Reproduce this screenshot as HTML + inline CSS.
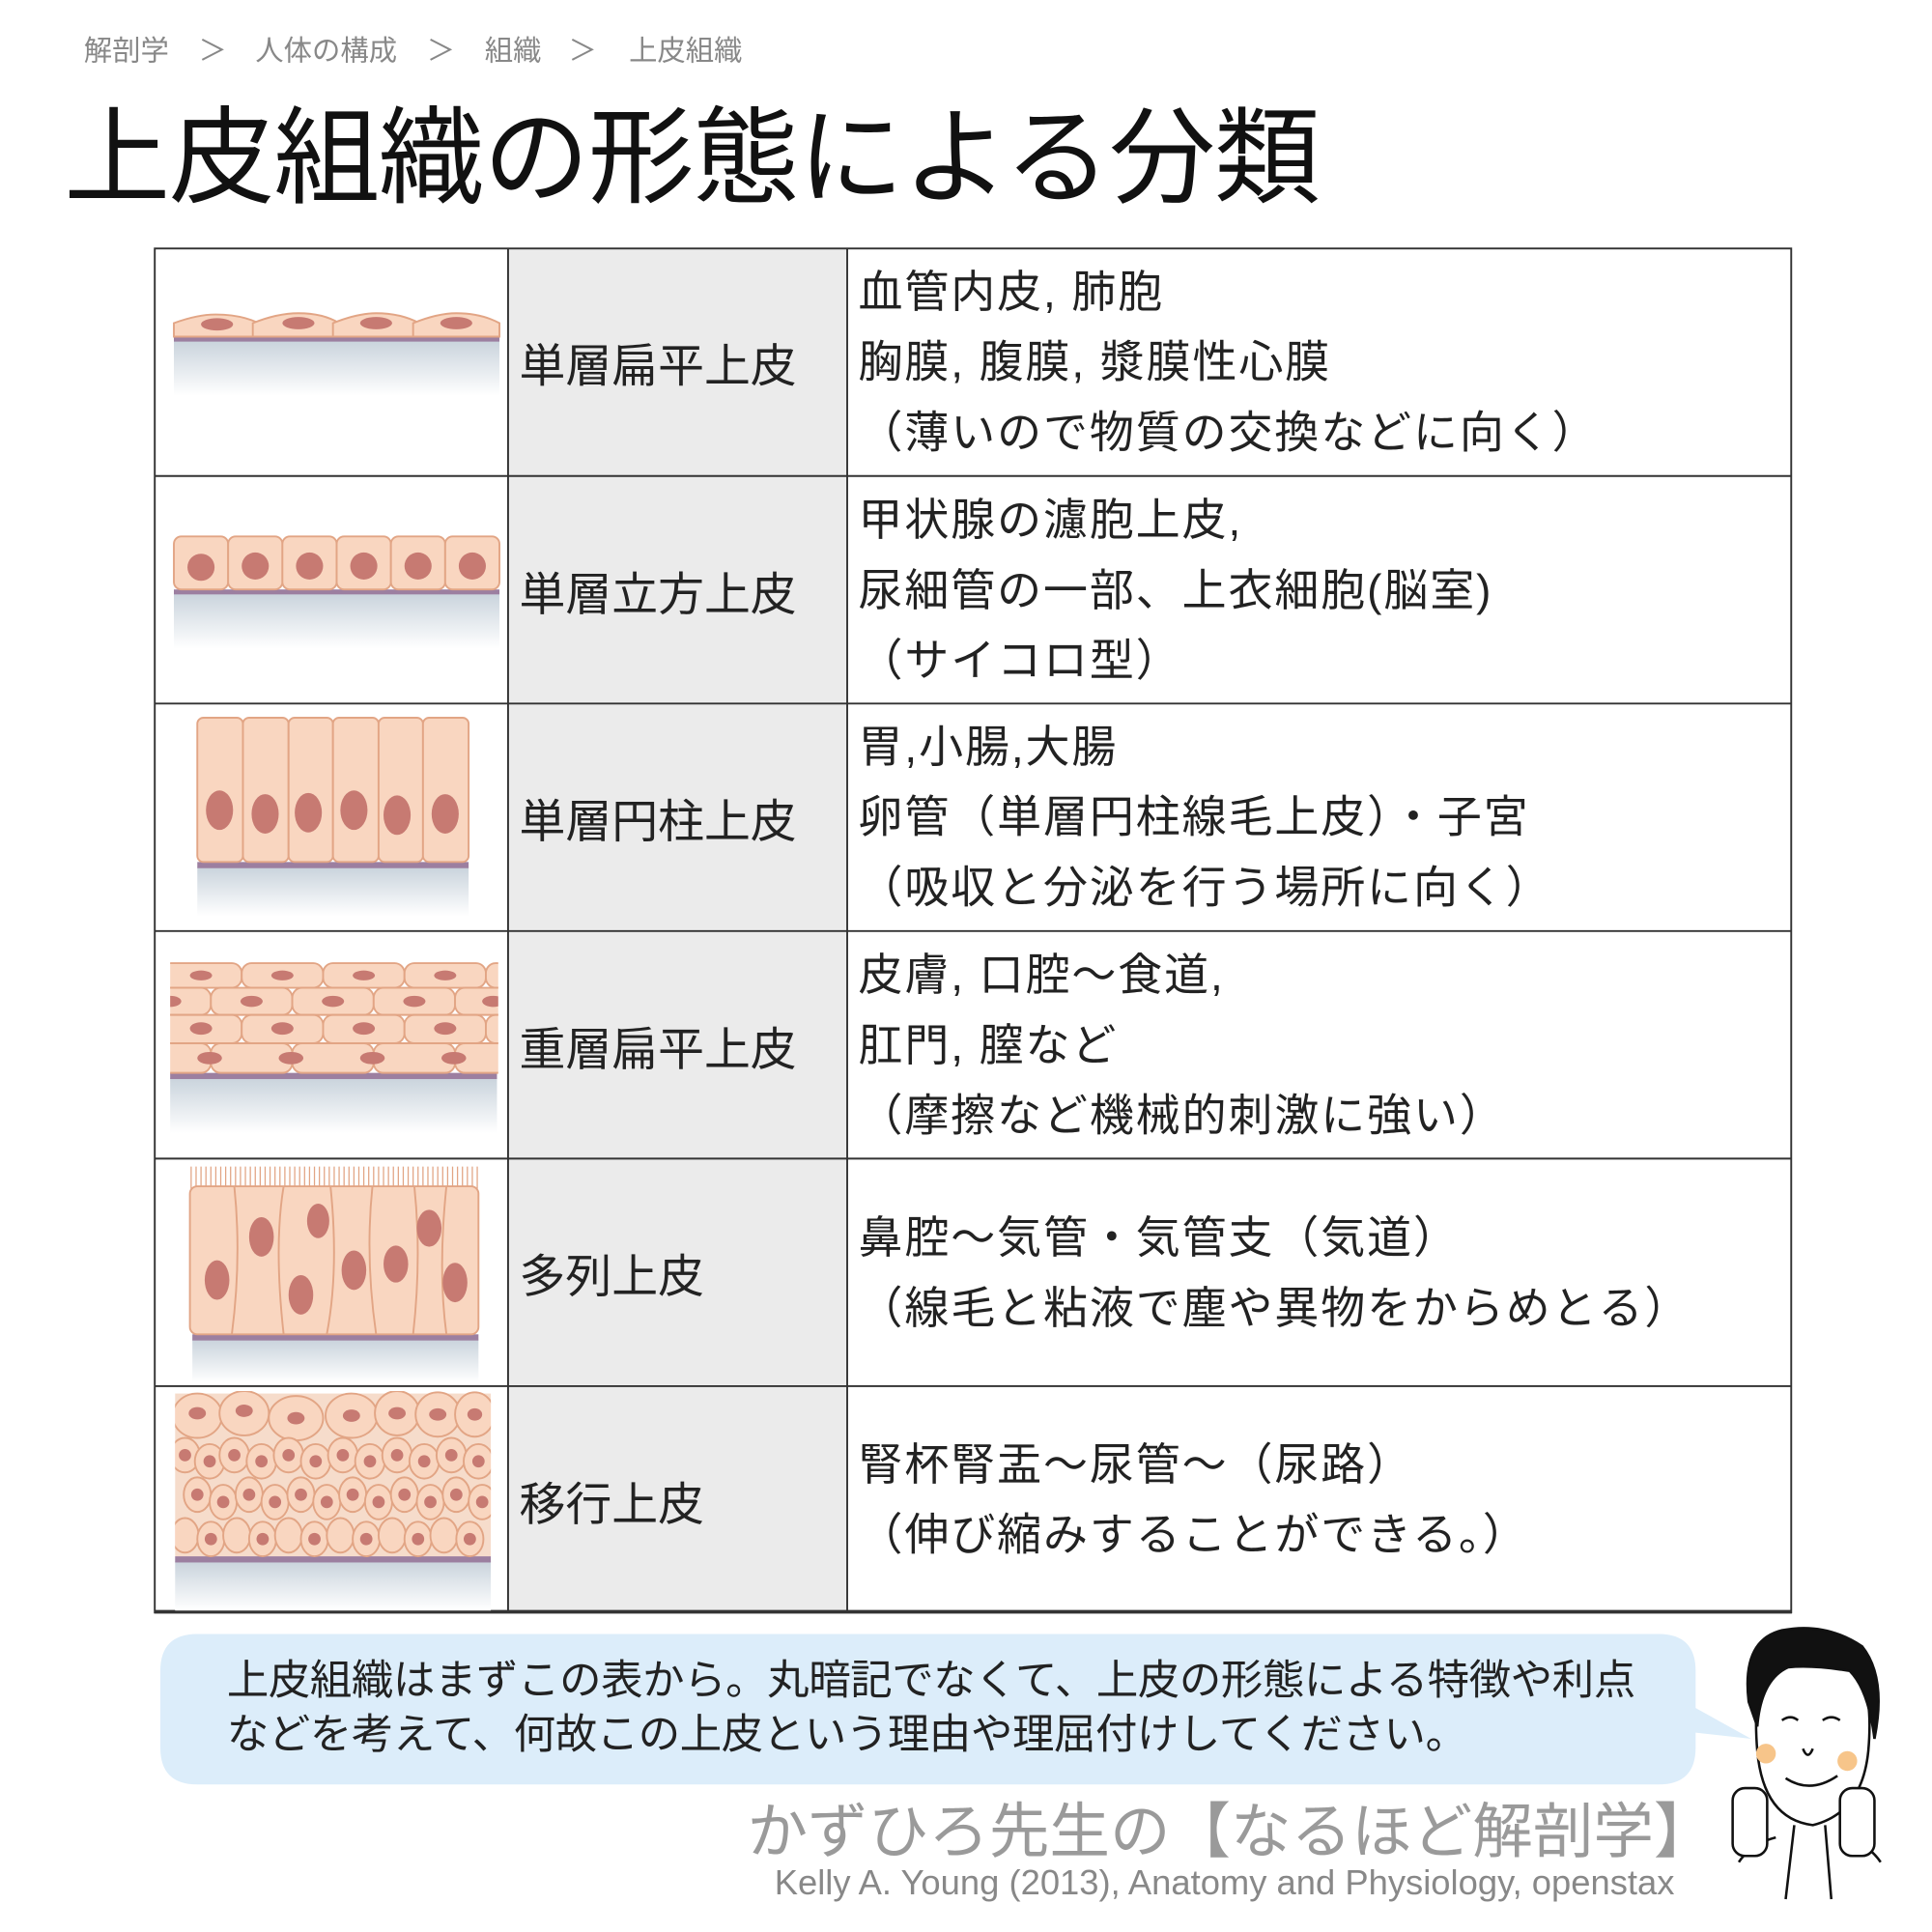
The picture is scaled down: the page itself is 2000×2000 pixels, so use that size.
<!DOCTYPE html>
<html><head><meta charset="utf-8"><style>
html,body{margin:0;padding:0;background:#fff;}
#wrap{position:relative;width:1566px;height:1566px;transform:scale(1.2766);transform-origin:0 0;overflow:hidden;font-family:"Liberation Sans","Noto Sans CJK JP",sans-serif;}
.abs{position:absolute;}
.bc{top:22px;font-size:23px;color:#888;white-space:nowrap;}
.title{left:52px;top:58px;font-size:86px;color:#111;white-space:nowrap;letter-spacing:-1px;}
.lab{position:absolute;left:412px;width:275px;display:flex;align-items:center;font-size:37.5px;color:#222;padding-left:9px;box-sizing:border-box;white-space:nowrap;}
.txt{position:absolute;left:696px;width:755px;display:flex;flex-direction:column;justify-content:center;font-size:36px;line-height:57px;color:#222;white-space:nowrap;letter-spacing:1.5px;}
.bub{left:184px;top:1341px;font-size:34px;line-height:44px;color:#222;white-space:nowrap;letter-spacing:-0.3px;}
.brand{left:606px;top:1446px;font-size:49px;color:#9a9a9a;white-space:nowrap;}
.cite{left:628px;top:1511px;font-size:28.5px;color:#888;white-space:nowrap;}
</style></head><body><div id="wrap">
<svg class="abs" style="left:0;top:0" width="1566" height="1566" viewBox="0 0 1566 1566">
<defs>
<linearGradient id="bg" x1="0" y1="0" x2="0" y2="1"><stop offset="0" stop-color="#c9d3dc"/><stop offset="1" stop-color="#fff"/></linearGradient>
<clipPath id="c4"><rect x="138" y="778" width="266" height="96"/></clipPath>
<clipPath id="c6"><rect x="142" y="1128" width="256" height="136"/></clipPath>
</defs>
<rect x="412" y="201" width="275" height="1107" fill="#ebebeb"/>
<g stroke="#333" stroke-width="1.5" fill="none">
<rect x="125.5" y="201.5" width="1327" height="1106"/>
<line x1="412" y1="201" x2="412" y2="1308"/><line x1="687" y1="201" x2="687" y2="1308"/>
<line x1="125" y1="386" x2="1453" y2="386"/><line x1="125" y1="570.5" x2="1453" y2="570.5"/>
<line x1="125" y1="755" x2="1453" y2="755"/><line x1="125" y1="939.5" x2="1453" y2="939.5"/>
<line x1="125" y1="1124" x2="1453" y2="1124"/>
</g>
<line x1="125" y1="1307" x2="1453" y2="1307" stroke="#333" stroke-width="3"/>
<!-- row1 -->
<rect x="141" y="276" width="264" height="45" fill="url(#bg)"/>
<rect x="141" y="273" width="264" height="4" fill="#9c7fa0"/>
<g fill="#f9d6c0" stroke="#e2a585" stroke-width="1.5">
<path d="M141 273 L141 262 Q160 255 175 255 Q195 255 210 262 L210 273Z"/>
<path d="M205 273 L205 262 Q225 254 242 254 Q262 254 275 262 L275 273Z"/>
<path d="M270 273 L270 262 Q290 254 305 254 Q325 254 340 262 L340 273Z"/>
<path d="M335 273 L335 262 Q355 254 370 254 Q390 254 405 262 L405 273Z"/>
</g>
<g fill="#c77a72"><ellipse cx="176" cy="263" rx="13" ry="5"/><ellipse cx="242" cy="262" rx="13" ry="5"/><ellipse cx="305" cy="262" rx="13" ry="5"/><ellipse cx="370" cy="262" rx="13" ry="5"/></g>
<!-- row2 -->
<rect x="141" y="481" width="264" height="45" fill="url(#bg)"/>
<rect x="141" y="478" width="264" height="4" fill="#9c7fa0"/>
<g fill="#f9d6c0" stroke="#e2a585" stroke-width="1.5">
<rect x="141" y="435" width="44" height="43" rx="6"/><rect x="185" y="435" width="44" height="43" rx="6"/><rect x="229" y="435" width="44" height="43" rx="6"/><rect x="273" y="435" width="44" height="43" rx="6"/><rect x="317" y="435" width="44" height="43" rx="6"/><rect x="361" y="435" width="44" height="43" rx="6"/>
</g>
<g fill="#c77a72"><circle cx="163" cy="460" r="11"/><circle cx="207" cy="459" r="11"/><circle cx="251" cy="459" r="11"/><circle cx="295" cy="459" r="11"/><circle cx="339" cy="459" r="11"/><circle cx="383" cy="459" r="11"/></g>
<!-- row3 -->
<rect x="160" y="703" width="220" height="40" fill="url(#bg)"/>
<rect x="160" y="699" width="220" height="5" fill="#9c7fa0"/>
<g fill="#f9d6c0" stroke="#e2a585" stroke-width="1.5">
<rect x="160" y="582" width="37" height="117" rx="5"/><rect x="197" y="582" width="37" height="117" rx="5"/><rect x="234" y="582" width="36" height="117" rx="5"/><rect x="270" y="582" width="37" height="117" rx="5"/><rect x="307" y="582" width="36" height="117" rx="5"/><rect x="343" y="582" width="37" height="117" rx="5"/>
</g>
<g fill="#c77a72"><ellipse cx="178" cy="657" rx="11" ry="16"/><ellipse cx="215" cy="660" rx="11" ry="16"/><ellipse cx="250" cy="659" rx="11" ry="16"/><ellipse cx="287" cy="657" rx="11" ry="16"/><ellipse cx="322" cy="661" rx="11" ry="16"/><ellipse cx="361" cy="660" rx="11" ry="16"/></g>
<!-- row4 -->
<rect x="138" y="874" width="265" height="45" fill="url(#bg)"/>
<rect x="138" y="870" width="265" height="5" fill="#9c7fa0"/>
<g clip-path="url(#c4)" fill="#f9d6c0" stroke="#e2a585" stroke-width="1.5">
<rect x="130" y="781" width="66" height="20" rx="8"/><rect x="196" y="781" width="66" height="20" rx="8"/><rect x="262" y="781" width="66" height="20" rx="8"/><rect x="328" y="781" width="66" height="20" rx="8"/><rect x="394" y="781" width="66" height="20" rx="8"/>
<rect x="105" y="801" width="66" height="22" rx="8"/><rect x="171" y="801" width="66" height="22" rx="8"/><rect x="237" y="801" width="66" height="22" rx="8"/><rect x="303" y="801" width="66" height="22" rx="8"/><rect x="369" y="801" width="66" height="22" rx="8"/>
<rect x="130" y="823" width="66" height="23" rx="8"/><rect x="196" y="823" width="66" height="23" rx="8"/><rect x="262" y="823" width="66" height="23" rx="8"/><rect x="328" y="823" width="66" height="23" rx="8"/><rect x="394" y="823" width="66" height="23" rx="8"/>
<rect x="105" y="846" width="66" height="24" rx="8"/><rect x="171" y="846" width="66" height="24" rx="8"/><rect x="237" y="846" width="66" height="24" rx="8"/><rect x="303" y="846" width="66" height="24" rx="8"/><rect x="369" y="846" width="66" height="24" rx="8"/>
</g>
<g clip-path="url(#c4)" fill="#c77a72">
<ellipse cx="163" cy="791" rx="9" ry="4"/><ellipse cx="229" cy="791" rx="9" ry="4"/><ellipse cx="295" cy="791" rx="9" ry="4"/><ellipse cx="361" cy="791" rx="9" ry="4"/>
<ellipse cx="138" cy="812" rx="9" ry="4.5"/><ellipse cx="204" cy="812" rx="9" ry="4.5"/><ellipse cx="270" cy="812" rx="9" ry="4.5"/><ellipse cx="336" cy="812" rx="9" ry="4.5"/><ellipse cx="400" cy="812" rx="9" ry="4.5"/>
<ellipse cx="163" cy="834" rx="9" ry="5"/><ellipse cx="229" cy="834" rx="9" ry="5"/><ellipse cx="295" cy="834" rx="9" ry="5"/><ellipse cx="361" cy="834" rx="9" ry="5"/>
<ellipse cx="170" cy="858" rx="10" ry="5"/><ellipse cx="236" cy="858" rx="10" ry="5"/><ellipse cx="302" cy="858" rx="10" ry="5"/><ellipse cx="368" cy="858" rx="10" ry="5"/>
</g>
<!-- row5 -->
<rect x="156" y="1086" width="232" height="35" fill="url(#bg)"/>
<rect x="156" y="1082" width="232" height="5" fill="#9c7fa0"/>
<g stroke="#e2a585" stroke-width="1">
<path d="M155 964 V946 M159 964 V946 M163 964 V946 M167 964 V946 M171 964 V946 M175 964 V946 M179 964 V946 M183 964 V946 M187 964 V946 M191 964 V946 M195 964 V946 M199 964 V946 M203 964 V946 M207 964 V946 M211 964 V946 M215 964 V946 M219 964 V946 M223 964 V946 M227 964 V946 M231 964 V946 M235 964 V946 M239 964 V946 M243 964 V946 M247 964 V946 M251 964 V946 M255 964 V946 M259 964 V946 M263 964 V946 M267 964 V946 M271 964 V946 M275 964 V946 M279 964 V946 M283 964 V946 M287 964 V946 M291 964 V946 M295 964 V946 M299 964 V946 M303 964 V946 M307 964 V946 M311 964 V946 M315 964 V946 M319 964 V946 M323 964 V946 M327 964 V946 M331 964 V946 M335 964 V946 M339 964 V946 M343 964 V946 M347 964 V946 M351 964 V946 M355 964 V946 M359 964 V946 M363 964 V946 M367 964 V946 M371 964 V946 M375 964 V946 M379 964 V946 M383 964 V946 M387 964 V946"/>
</g>
<rect x="154" y="962" width="234" height="120" rx="6" fill="#f9d6c0" stroke="#e2a585" stroke-width="1.5"/>
<g fill="none" stroke="#e2a585" stroke-width="1.5">
<path d="M190 962 Q196 1020 188 1082 M230 962 Q222 1010 230 1082 M268 962 Q275 1030 265 1082 M302 962 Q296 1020 305 1082 M336 962 Q342 1020 335 1082 M362 962 Q355 1030 362 1082"/>
</g>
<g fill="#c77a72"><ellipse cx="176" cy="1038" rx="10" ry="16"/><ellipse cx="212" cy="1003" rx="10" ry="16"/><ellipse cx="244" cy="1050" rx="10" ry="16"/><ellipse cx="258" cy="990" rx="9" ry="14"/><ellipse cx="287" cy="1030" rx="10" ry="16"/><ellipse cx="321" cy="1025" rx="10" ry="15"/><ellipse cx="348" cy="996" rx="10" ry="15"/><ellipse cx="369" cy="1040" rx="10" ry="16"/></g>
<!-- row6 -->
<rect x="142" y="1266" width="256" height="40" fill="url(#bg)"/>
<rect x="142" y="1262" width="256" height="5" fill="#9c7fa0"/>
<rect x="142" y="1130" width="256" height="132" fill="#f6dccb"/>
<g clip-path="url(#c6)" fill="#f9d6c0" stroke="#e2a585" stroke-width="1.5">
<ellipse cx="160" cy="1148" rx="20" ry="18"/><ellipse cx="198" cy="1146" rx="20" ry="18"/><ellipse cx="240" cy="1150" rx="22" ry="18"/><ellipse cx="285" cy="1148" rx="21" ry="18"/><ellipse cx="322" cy="1146" rx="18" ry="18"/><ellipse cx="355" cy="1147" rx="18" ry="18"/><ellipse cx="385" cy="1147" rx="16" ry="18"/>
<ellipse cx="150" cy="1180" rx="12" ry="14"/><ellipse cx="170" cy="1185" rx="12" ry="14"/><ellipse cx="190" cy="1180" rx="12" ry="14"/><ellipse cx="212" cy="1185" rx="12" ry="14"/><ellipse cx="234" cy="1180" rx="12" ry="14"/><ellipse cx="256" cy="1185" rx="12" ry="14"/><ellipse cx="278" cy="1180" rx="12" ry="14"/><ellipse cx="300" cy="1185" rx="12" ry="14"/><ellipse cx="322" cy="1180" rx="12" ry="14"/><ellipse cx="344" cy="1185" rx="12" ry="14"/><ellipse cx="366" cy="1180" rx="12" ry="14"/><ellipse cx="388" cy="1185" rx="12" ry="14"/>
<ellipse cx="160" cy="1212" rx="11" ry="14"/><ellipse cx="181" cy="1218" rx="11" ry="14"/><ellipse cx="202" cy="1212" rx="11" ry="14"/><ellipse cx="223" cy="1218" rx="11" ry="14"/><ellipse cx="244" cy="1212" rx="11" ry="14"/><ellipse cx="265" cy="1218" rx="11" ry="14"/><ellipse cx="286" cy="1212" rx="11" ry="14"/><ellipse cx="307" cy="1218" rx="11" ry="14"/><ellipse cx="328" cy="1212" rx="11" ry="14"/><ellipse cx="349" cy="1218" rx="11" ry="14"/><ellipse cx="370" cy="1212" rx="11" ry="14"/><ellipse cx="391" cy="1218" rx="11" ry="14"/>
<ellipse cx="150" cy="1245" rx="11" ry="14"/><ellipse cx="171" cy="1248" rx="11" ry="14"/><ellipse cx="192" cy="1245" rx="11" ry="14"/><ellipse cx="213" cy="1248" rx="11" ry="14"/><ellipse cx="234" cy="1245" rx="11" ry="14"/><ellipse cx="255" cy="1248" rx="11" ry="14"/><ellipse cx="276" cy="1245" rx="11" ry="14"/><ellipse cx="297" cy="1248" rx="11" ry="14"/><ellipse cx="318" cy="1245" rx="11" ry="14"/><ellipse cx="339" cy="1248" rx="11" ry="14"/><ellipse cx="360" cy="1245" rx="11" ry="14"/><ellipse cx="381" cy="1248" rx="11" ry="14"/>
</g>
<g clip-path="url(#c6)" fill="#c77a72">
<ellipse cx="160" cy="1146" rx="7" ry="5"/><ellipse cx="198" cy="1144" rx="7" ry="5"/><ellipse cx="240" cy="1150" rx="7" ry="5"/><ellipse cx="285" cy="1148" rx="7" ry="5"/><ellipse cx="322" cy="1146" rx="7" ry="5"/><ellipse cx="355" cy="1147" rx="7" ry="5"/><ellipse cx="385" cy="1147" rx="6" ry="5"/>
<circle cx="150" cy="1180" r="5"/><circle cx="170" cy="1185" r="5"/><circle cx="190" cy="1180" r="5"/><circle cx="212" cy="1185" r="5"/><circle cx="234" cy="1180" r="5"/><circle cx="256" cy="1185" r="5"/><circle cx="278" cy="1180" r="5"/><circle cx="300" cy="1185" r="5"/><circle cx="322" cy="1180" r="5"/><circle cx="344" cy="1185" r="5"/><circle cx="366" cy="1180" r="5"/><circle cx="388" cy="1185" r="5"/>
<circle cx="160" cy="1212" r="5"/><circle cx="181" cy="1218" r="5"/><circle cx="202" cy="1212" r="5"/><circle cx="223" cy="1218" r="5"/><circle cx="244" cy="1212" r="5"/><circle cx="265" cy="1218" r="5"/><circle cx="286" cy="1212" r="5"/><circle cx="307" cy="1218" r="5"/><circle cx="328" cy="1212" r="5"/><circle cx="349" cy="1218" r="5"/><circle cx="370" cy="1212" r="5"/><circle cx="391" cy="1218" r="5"/>
<circle cx="171" cy="1248" r="5"/><circle cx="213" cy="1248" r="5"/><circle cx="255" cy="1248" r="5"/><circle cx="297" cy="1248" r="5"/><circle cx="339" cy="1248" r="5"/><circle cx="381" cy="1248" r="5"/>
</g>
<!-- bubble -->
<path d="M160 1325 H1345 Q1375 1325 1375 1355 V1385 L1420 1410 L1375 1405 V1417 Q1375 1447 1345 1447 H160 Q130 1447 130 1417 V1355 Q130 1325 160 1325Z" fill="#dcedfa"/>
<!-- cartoon -->
<g stroke="#111" stroke-width="2" fill="#fff">
<path d="M1425 1420 Q1420 1360 1440 1345 Q1470 1330 1500 1345 Q1520 1365 1515 1420 Q1510 1470 1470 1480 Q1430 1475 1425 1420Z"/>
<path d="M1418 1380 Q1412 1330 1445 1322 Q1480 1315 1510 1335 Q1530 1360 1520 1410 Q1515 1370 1500 1355 Q1470 1350 1450 1352 Q1428 1362 1425 1400Z" fill="#111"/>
<path d="M1455 1480 L1448 1540 M1480 1480 L1485 1540 M1440 1490 Q1420 1495 1410 1510 M1495 1490 Q1515 1495 1525 1510" fill="none"/>
<rect x="1405" y="1450" width="28" height="55" rx="10"/><rect x="1492" y="1450" width="28" height="55" rx="10"/>
<path d="M1445 1395 Q1452 1390 1458 1395 M1478 1395 Q1485 1390 1492 1395 M1462 1418 Q1466 1428 1470 1418 M1448 1442 Q1468 1455 1490 1440" fill="none"/>
</g>
<circle cx="1432" cy="1422" r="8" fill="#f7c58a"/><circle cx="1498" cy="1428" r="8" fill="#f7c58a"/>
</svg>
<div class="abs bc" style="left:68px">解剖学</div>
<div class="abs bc" style="left:161px">＞</div>
<div class="abs bc" style="left:207px">人体の構成</div>
<div class="abs bc" style="left:346px">＞</div>
<div class="abs bc" style="left:393px">組織</div>
<div class="abs bc" style="left:461px">＞</div>
<div class="abs bc" style="left:510px">上皮組織</div>
<div class="abs title">上皮組織の形態による分類</div>

<div class="lab" style="top:201px;height:185px">単層扁平上皮</div>
<div class="lab" style="top:386px;height:184px">単層立方上皮</div>
<div class="lab" style="top:570px;height:185px">単層円柱上皮</div>
<div class="lab" style="top:755px;height:184px">重層扁平上皮</div>
<div class="lab" style="top:939px;height:185px">多列上皮</div>
<div class="lab" style="top:1124px;height:184px">移行上皮</div>

<div class="txt" style="top:201px;height:185px"><div>血管内皮, 肺胞</div><div>胸膜, 腹膜, 漿膜性心膜</div><div>（薄いので物質の交換などに向く）</div></div>
<div class="txt" style="top:386px;height:184px"><div>甲状腺の濾胞上皮,</div><div>尿細管の一部、上衣細胞(脳室)</div><div>（サイコロ型）</div></div>
<div class="txt" style="top:570px;height:185px"><div>胃,小腸,大腸</div><div>卵管（単層円柱線毛上皮）・子宮</div><div>（吸収と分泌を行う場所に向く）</div></div>
<div class="txt" style="top:755px;height:184px"><div>皮膚, 口腔〜食道,</div><div>肛門, 膣など</div><div>（摩擦など機械的刺激に強い）</div></div>
<div class="txt" style="top:939px;height:185px"><div>鼻腔〜気管・気管支（気道）</div><div>（線毛と粘液で塵や異物をからめとる）</div></div>
<div class="txt" style="top:1124px;height:184px"><div>腎杯腎盂〜尿管〜（尿路）</div><div>（伸び縮みすることができる。）</div></div>

<div class="abs bub">上皮組織はまずこの表から。丸暗記でなくて、上皮の形態による特徴や利点<br>などを考えて、何故この上皮という理由や理屈付けしてください。</div>
<div class="abs brand">かずひろ先生の【なるほど解剖学】</div>
<div class="abs cite">Kelly A. Young (2013), Anatomy and Physiology, openstax</div>
</div></body></html>
